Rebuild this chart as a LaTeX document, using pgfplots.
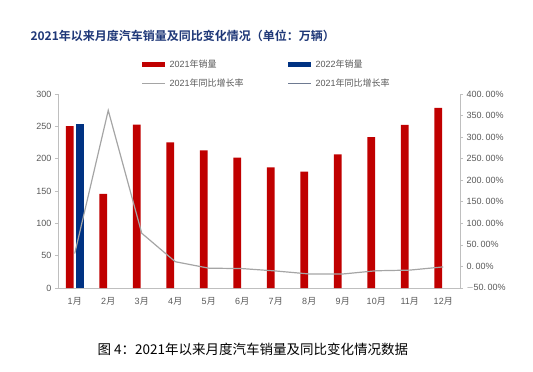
\documentclass[border=0pt]{standalone}
\usepackage{pgfplots}
\pgfplotsset{compat=1.18}
\usepackage{fontspec}
\setmainfont{Liberation Sans}
\newfontfamily\cjk{Noto Sans CJK SC}
\newfontfamily\cjkb{Noto Sans CJK SC Bold}
\definecolor{barred}{RGB}{192,0,0}
\definecolor{barblue}{RGB}{0,50,130}
\definecolor{lgray}{RGB}{165,165,165}
\definecolor{lbgray}{RGB}{110,122,145}
\definecolor{txtgray}{RGB}{89,89,89}
\definecolor{axgray}{RGB}{191,191,191}
\definecolor{titleblue}{RGB}{31,56,120}
\begin{document}
\begin{tikzpicture}
\useasboundingbox (0pt,0pt) rectangle (533pt,-372pt);
% title
\node[anchor=west,text=titleblue,font={\fontsize{12}{12}\cjkb}] at (27pt,-36pt) {2021年以来月度汽车销量及同比变化情况（单位：万辆）};
% legend
\fill[barred] (142pt,-62pt) rectangle (165pt,-67pt);
\node[anchor=west,text=txtgray,font={\fontsize{9}{9}\selectfont}] at (166pt,-64.5pt) {2021{\cjk 年销量}};
\fill[barblue] (288pt,-62pt) rectangle (311pt,-67pt);
\node[anchor=west,text=txtgray,font={\fontsize{9}{9}\selectfont}] at (312pt,-64.5pt) {2022{\cjk 年销量}};
\draw[lgray,line width=1pt] (142pt,-83pt) -- (165pt,-83pt);
\node[anchor=west,text=txtgray,font={\fontsize{9}{9}\selectfont}] at (166pt,-83pt) {2021{\cjk 年同比增长率}};
\draw[lbgray,line width=1pt] (288pt,-83pt) -- (311pt,-83pt);
\node[anchor=west,text=txtgray,font={\fontsize{9}{9}\selectfont}] at (312pt,-83pt) {2021{\cjk 年同比增长率}};
% caption
\node[anchor=west,text=black,font={\fontsize{13.5}{13.5}\cjk}] at (94pt,-349pt) {图 4：2021年以来月度汽车销量及同比变化情况数据};
% bar axis
\begin{axis}[
  at={(58pt,-288pt)}, anchor=south west,
  scale only axis, width=402pt, height=194pt,
  xmin=0.5, xmax=12.5, ymin=0, ymax=300,
  axis x line*=bottom, axis y line*=left,
  axis line style={axgray, line width=0.6pt},
  xtick={1,...,12},
  xticklabels={1{\cjk 月},2{\cjk 月},3{\cjk 月},4{\cjk 月},5{\cjk 月},6{\cjk 月},7{\cjk 月},8{\cjk 月},9{\cjk 月},10{\cjk 月},11{\cjk 月},12{\cjk 月}},
  x tick style={draw=none},
  ytick={0,50,...,300},
  y tick style={axgray, line width=0.6pt},
  tick align=outside, major tick length=3pt,
  ticklabel style={text=txtgray, font={\fontsize{9}{9}\selectfont}},
  /pgf/number format/assume math mode=true,
  xticklabel style={yshift=-3pt},
  ybar, bar width=0.23,
]
\addplot[fill=barred, draw=none, bar shift=-0.15] coordinates {
(1,250.3) (2,145.5) (3,252.6) (4,225.2) (5,212.8) (6,201.5)
(7,186.4) (8,179.9) (9,206.7) (10,233.2) (11,252.2) (12,278.6)};
\addplot[fill=barblue, draw=none, bar shift=0.15] coordinates {(1,253.1)};
\end{axis}
% line axis
\begin{axis}[
  at={(58pt,-288pt)}, anchor=south west,
  scale only axis, width=402pt, height=194pt,
  xmin=0.5, xmax=12.5, ymin=-50, ymax=400,
  axis x line=none, axis y line*=right,
  axis line style={axgray, line width=0.6pt},
  ytick={-50,0,50,...,400},
  yticklabels={$-$50.\,00\%,0.\,00\%,50.\,00\%,100.\,00\%,150.\,00\%,200.\,00\%,250.\,00\%,300.\,00\%,350.\,00\%,400.\,00\%},
  y tick style={axgray, line width=0.6pt},
  tick align=outside, major tick length=3pt,
  ticklabel style={text=txtgray, font={\fontsize{9}{9}\selectfont}},
]
\addplot[lgray, line width=1.2pt, mark=none] coordinates {
(1,30) (2,362) (3,77) (4,11) (5,-4) (6,-5)
(7,-10.5) (8,-17.5) (9,-17.5) (10,-10) (11,-8.5) (12,-1)};
\end{axis}
\end{tikzpicture}
\end{document}
